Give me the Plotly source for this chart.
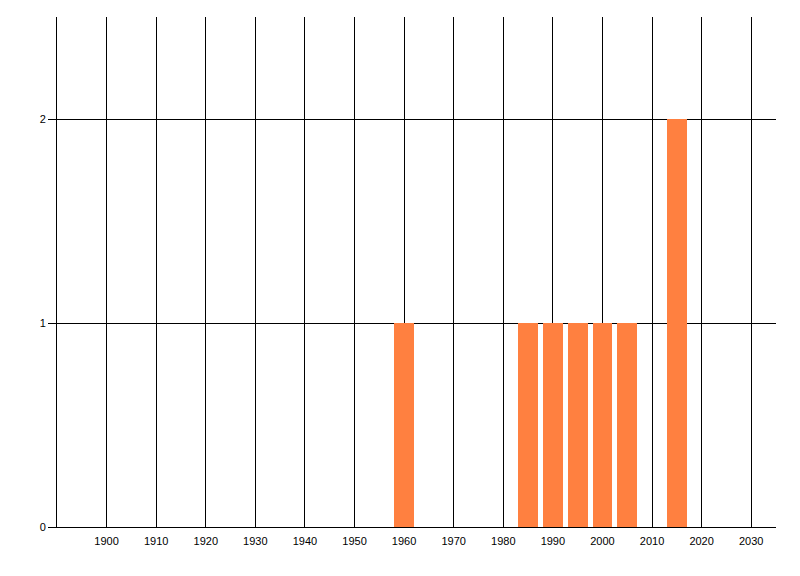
import plotly.graph_objects as go

years = [1960, 1985, 1990, 1995, 2000, 2005, 2015]
counts = [1, 1, 1, 1, 1, 1, 2]
x_ticks = list(range(1900, 2031, 10))
y_ticks = [0, 1, 2]

fig = go.Figure(go.Bar(
    x=years, y=counts, width=4,
    marker=dict(color="rgb(255,128,64)", line=dict(width=0)),
))

font = dict(family="Liberation Sans, Arial, sans-serif", size=11, color="black")

fig.update_layout(
    width=800, height=576,
    margin=dict(l=49, r=32, t=9, b=57, autoexpand=False),
    paper_bgcolor="white", plot_bgcolor="white",
    showlegend=False,
    font=font,
    bargap=0,
)
fig.update_xaxes(
    range=[1890, 2035],
    tickvals=x_ticks, ticktext=[str(v) for v in x_ticks],
    showgrid=True, gridcolor="black", gridwidth=1,
    showline=True, linecolor="black", linewidth=1,
    ticks="", zeroline=False,
    ticklabelstandoff=4,
    tickfont=font,
)
fig.update_yaxes(
    range=[0, 2.5],
    tickvals=y_ticks, ticktext=[str(v) for v in y_ticks],
    showgrid=True, gridcolor="black", gridwidth=1,
    showline=True, linecolor="black", linewidth=1,
    ticks="outside", ticklen=8, tickcolor="black", tickwidth=1,
    zeroline=False,
    tickfont=font,
)

fig.write_html("out.html")
